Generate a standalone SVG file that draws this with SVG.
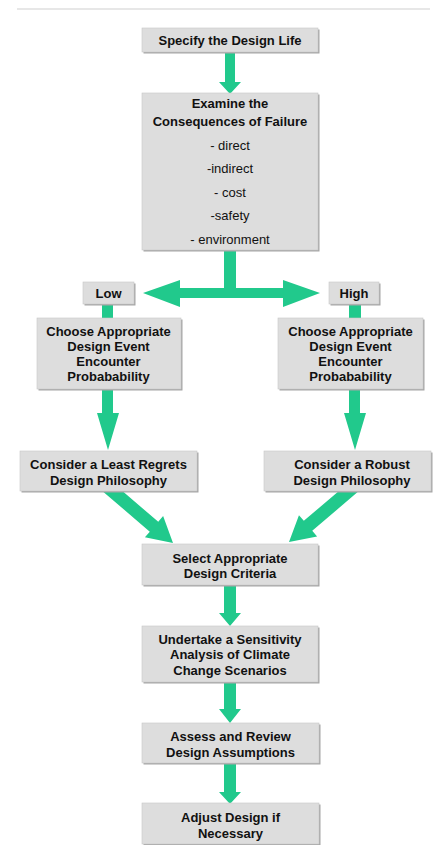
<svg xmlns="http://www.w3.org/2000/svg" width="433" height="845" viewBox="0 0 433 845">
<style>
.bx{fill:#dddddd;stroke:#c8c8c8;stroke-width:0.6}
.sh{fill:#a6a6a6}
.t{font-family:"Liberation Sans",Arial,sans-serif;font-size:13px;font-weight:bold;fill:#111;text-anchor:middle}
.r{font-family:"Liberation Sans",Arial,sans-serif;font-size:13px;fill:#111;text-anchor:middle}
.g{fill:#21c98c}
</style>
<rect x="0" y="0" width="433" height="845" fill="#ffffff"/>
<line x1="17" y1="9" x2="430" y2="9" stroke="#cfcfcf" stroke-width="1"/>
<g id="connectors">
<polygon class="g" points="225,48 235,48 235,82 241,82 230,94 219,82 225,82"/>
<rect class="g" x="224" y="246" width="12" height="46"/>
<polygon class="g" points="143,293 180,280 180,288 283,288 283,280 320,293 283,307 283,298 180,298 180,307"/>
<rect class="g" x="102" y="300" width="11" height="20"/>
<rect class="g" x="349" y="300" width="12" height="20"/>
<polygon class="g" points="102,385 113,385 113,413 119,413 108,450 97,413 102,413"/>
<polygon class="g" points="349,385 360,385 360,413 366,413 355,450 344,413 349,413"/>
<polygon class="g" transform="translate(173,543) rotate(40.6)" points="-88,-6.5 -25,-6.5 -25,-14 0,0 -25,14 -25,6.5 -88,6.5"/>
<polygon class="g" transform="translate(289,542) rotate(139.6)" points="-85,-6.5 -25,-6.5 -25,-14 0,0 -25,14 -25,6.5 -85,6.5"/>
<polygon class="g" points="224,581 236,581 236,613 241,613 230,626 219,613 224,613"/>
<polygon class="g" points="224,678 236,678 236,709 241,709 230,723 219,709 224,709"/>
<polygon class="g" points="224,759 236,759 236,792 241,792 230,804 219,792 224,792"/>
</g>
<g id="n1">
<rect class="sh" x="143.5" y="29.5" width="176" height="24"/>
<rect class="bx" x="142" y="28" width="176" height="24"/>
<text class="t" x="230" y="44.5">Specify the Design Life</text>
</g>
<g id="n2">
<rect class="sh" x="143.5" y="94.5" width="176" height="157"/>
<rect class="bx" x="142" y="93" width="176" height="157"/>
<text class="t" x="230" y="107.5">Examine the</text>
<text class="t" x="230" y="125.5">Consequences of Failure</text>
<text class="r" x="230" y="149.5">- direct</text>
<text class="r" x="230" y="173">-indirect</text>
<text class="r" x="230" y="196.5">- cost</text>
<text class="r" x="230" y="220">-safety</text>
<text class="r" x="230" y="243.5">- environment</text>
</g>
<g id="low">
<rect class="sh" x="84.5" y="283.5" width="51" height="22"/>
<rect class="bx" x="83" y="282" width="51" height="22"/>
<text class="t" x="108.5" y="297.5">Low</text>
</g>
<g id="high">
<rect class="sh" x="330.5" y="283.5" width="50" height="22"/>
<rect class="bx" x="329" y="282" width="50" height="22"/>
<text class="t" x="354" y="297.5">High</text>
</g>
<g id="chooseL">
<rect class="sh" x="38.5" y="319.5" width="144" height="71"/>
<rect class="bx" x="37" y="318" width="144" height="71"/>
<text class="t" x="108.5" y="335.5">Choose Appropriate</text>
<text class="t" x="108.5" y="350.8">Design Event</text>
<text class="t" x="108.5" y="366.1">Encounter</text>
<text class="t" x="108.5" y="381.4">Probabability</text>
</g>
<g id="chooseR">
<rect class="sh" x="279.5" y="319.5" width="145" height="71"/>
<rect class="bx" x="278" y="318" width="145" height="71"/>
<text class="t" x="350.5" y="335.5">Choose Appropriate</text>
<text class="t" x="350.5" y="350.8">Design Event</text>
<text class="t" x="350.5" y="366.1">Encounter</text>
<text class="t" x="350.5" y="381.4">Probabability</text>
</g>
<g id="considerL">
<rect class="sh" x="21.5" y="452.5" width="177" height="40"/>
<rect class="bx" x="20" y="451" width="177" height="40"/>
<text class="t" x="108.5" y="468.5">Consider a Least Regrets</text>
<text class="t" x="108.5" y="484.5">Design Philosophy</text>
</g>
<g id="considerR">
<rect class="sh" x="265.5" y="452.5" width="167" height="40"/>
<rect class="bx" x="264" y="451" width="167" height="40"/>
<text class="t" x="352" y="468.5">Consider a Robust</text>
<text class="t" x="352" y="484.5">Design Philosophy</text>
</g>
<g id="select">
<rect class="sh" x="143.5" y="545.5" width="176" height="41"/>
<rect class="bx" x="142" y="544" width="176" height="41"/>
<text class="t" x="230" y="562.5">Select Appropriate</text>
<text class="t" x="230" y="577.5">Design Criteria</text>
</g>
<g id="undertake">
<rect class="sh" x="143.5" y="627.5" width="176" height="56"/>
<rect class="bx" x="142" y="626" width="176" height="56"/>
<text class="t" x="230" y="643.5">Undertake a Sensitivity</text>
<text class="t" x="230" y="659">Analysis of Climate</text>
<text class="t" x="230" y="674.5">Change Scenarios</text>
</g>
<g id="assess">
<rect class="sh" x="143.5" y="724.5" width="177" height="40"/>
<rect class="bx" x="142" y="723" width="177" height="40"/>
<text class="t" x="230.5" y="740.5">Assess and Review</text>
<text class="t" x="230.5" y="756.5">Design Assumptions</text>
</g>
<g id="adjust">
<rect class="sh" x="143.5" y="804.5" width="177" height="41"/>
<rect class="bx" x="142" y="803" width="177" height="41"/>
<text class="t" x="230.5" y="821.5">Adjust Design if</text>
<text class="t" x="230.5" y="837.5">Necessary</text>
</g>
</svg>
